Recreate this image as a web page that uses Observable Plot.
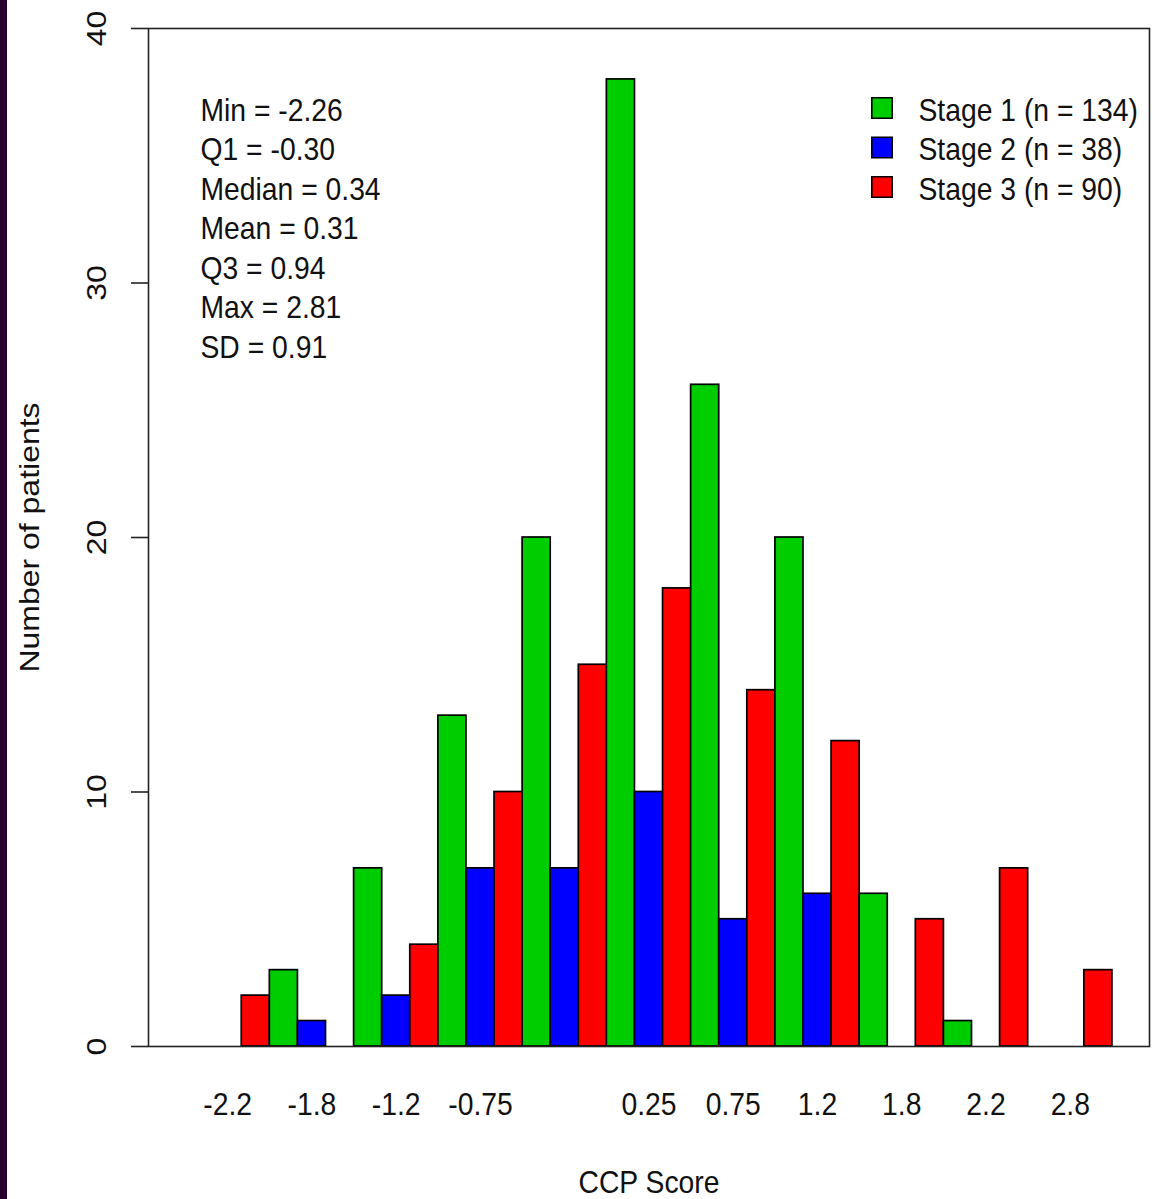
<!DOCTYPE html>
<html>
<head>
<meta charset="utf-8">
<script src="https://cdn.jsdelivr.net/npm/d3@7"></script>
<script src="https://cdn.jsdelivr.net/npm/@observablehq/plot@0.6"></script>
<style>
  body { margin: 0; background: #fff; }
  #wrap { position: relative; width: 1153px; height: 1199px; overflow: hidden; background: #fff; }
  #strip { position: absolute; left: 0; top: 0; width: 7px; height: 1199px; background: #24002a; z-index: 2; }
  #wrap svg { position: absolute; left: 0; top: 0; }
</style>
</head>
<body>
<div id="wrap"><div id="strip"></div></div>
<script>
// ---- data ----
const binLabels = ["-2.2", "-1.8", "-1.2", "-0.75", "", "0.25", "0.75", "1.2", "1.8", "2.2", "2.8"];
const stage1 = [0, 3, 7, 13, 20, 38, 26, 20, 6, 1, 0];
const stage2 = [0, 1, 2, 7, 7, 10, 5, 6, 0, 0, 0];
const stage3 = [2, 0, 4, 10, 15, 18, 14, 12, 5, 7, 3];
const seriesNames = ["Stage 1 (n = 134)", "Stage 2 (n = 38)", "Stage 3 (n = 90)"];
const seriesColors = ["#00CD00", "#0000FF", "#FF0000"];
const statsLines = ["Min = -2.26", "Q1 = -0.30", "Median = 0.34", "Mean = 0.31", "Q3 = 0.94", "Max = 2.81", "SD = 0.91"];
const yTicks = [0, 10, 20, 30, 40];
const xTitle = "CCP Score";
const yTitle = "Number of patients";

// ---- build table ----
const seriesValues = [stage1, stage2, stage3];
const nGroups = binLabels.length;
const nSeries = seriesValues.length;
const bars = [];
for (let g = 0; g < nGroups; g++) {
  for (let s = 0; s < nSeries; s++) {
    bars.push({bar: g * nSeries + s, value: seriesValues[s][g], name: seriesNames[s]});
  }
}
const groups = binLabels.map((label, g) => ({center: g * nSeries + nSeries / 2, label}));
const nBars = nGroups * nSeries;
const pad = 0.04 * nBars;

const FS = 28.3;      // text size
const STRETCH = 1.13; // the reference's lettering is stretched vertically by about this much
const LH = 39.5;      // line spacing of the annotation blocks
const ink = "#111";

const chart = Plot.plot({
  width: 1153,
  height: 1199,
  marginLeft: 148,
  marginRight: 4,
  marginTop: 28,
  marginBottom: 153,
  style: {fontFamily: "'Liberation Sans', Arial, sans-serif", fontSize: FS + "px", color: "#000", background: "transparent"},
  x: {domain: [-pad, nBars + pad], axis: null},
  y: {domain: [0, 40]},
  color: {domain: seriesNames, range: seriesColors},
  marks: [
    Plot.rectY(bars.filter(d => d.value > 0), {
      x1: "bar", x2: d => d.bar + 1, y: "value", fill: "name",
      stroke: "#000", strokeWidth: 1.7
    }),
    Plot.frame({stroke: "#222", strokeWidth: 1.6}),
    Plot.axisY({ticks: yTicks, tickSize: 17, tickFormat: () => "", label: null, stroke: "#222", strokeWidth: 1.6}),
    Plot.text(yTicks, {y: d => d, text: d => String(d), frameAnchor: "left", dx: -52, rotate: -90,
      textAnchor: "middle", lineAnchor: "middle", fontSize: FS, fill: ink}),
    Plot.text(groups, {x: "center", text: "label", frameAnchor: "bottom", dy: 58,
      textAnchor: "middle", lineAnchor: "middle", fontSize: FS, fill: ink}),
    Plot.text([xTitle], {text: d => d, frameAnchor: "bottom", dy: 136,
      textAnchor: "middle", lineAnchor: "middle", fontSize: FS, fill: ink}),
    Plot.text([yTitle], {text: d => d, frameAnchor: "left", dx: -119, rotate: -90,
      textAnchor: "middle", lineAnchor: "middle", fontSize: FS, fill: ink}),
    ...statsLines.map((t, i) => Plot.text([t], {text: d => d, frameAnchor: "top-left", dx: 52, dy: 82 + LH * i,
      textAnchor: "start", lineAnchor: "middle", fontSize: FS, fill: ink})),
    ...seriesNames.map((t, i) => Plot.text([t], {text: d => d, frameAnchor: "top-left", dx: 770, dy: 82 + LH * i,
      textAnchor: "start", lineAnchor: "middle", fontSize: FS, fill: ink})),
    ...seriesNames.map((n, i) => Plot.dot([n], {frameAnchor: "top-left", dx: 733.5, dy: 79.5 + LH * i,
      symbol: "square", r: 11.5, fill: d => d, stroke: "#000", strokeWidth: 1.6}))
  ]
});
document.getElementById("wrap").appendChild(chart);

// Stretch every text vertically about its own centre, as in the reference.
const svg = chart.tagName.toLowerCase() === "svg" ? chart : chart.querySelector("svg");
const NS = "http://www.w3.org/2000/svg";
Array.from(svg.querySelectorAll("text")).forEach(t => {
  if (!t.textContent) return;
  const r = t.getBoundingClientRect();
  const parent = t.parentNode;
  const ctm = parent.getScreenCTM();
  if (!ctm) return;
  const p = svg.createSVGPoint();
  p.x = r.left + r.width / 2;
  p.y = r.top + r.height / 2;
  const q = p.matrixTransform(ctm.inverse());
  const g = document.createElementNS(NS, "g");
  g.setAttribute("transform", `translate(${q.x},${q.y}) scale(1,${STRETCH}) translate(${-q.x},${-q.y})`);
  parent.insertBefore(g, t);
  g.appendChild(t);
});
</script>
</body>
</html>
